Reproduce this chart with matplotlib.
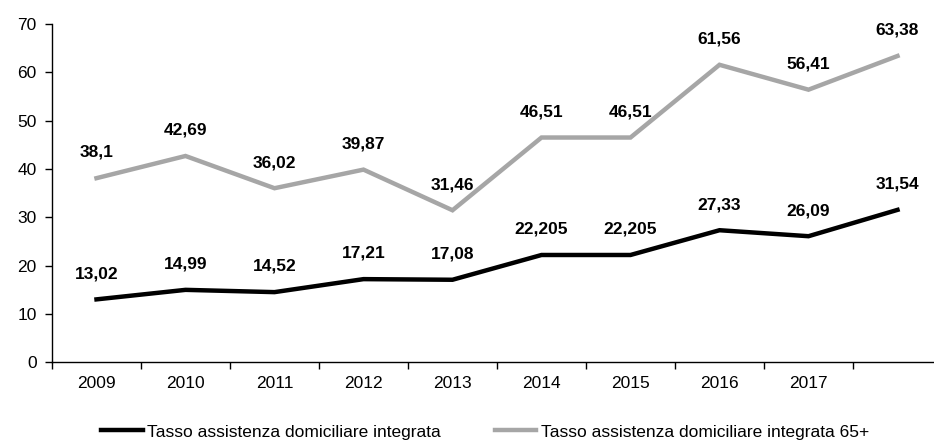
import matplotlib
matplotlib.use("Agg")
import matplotlib.pyplot as plt
import numpy as np

years = ["2009", "2010", "2011", "2012", "2013", "2014", "2015", "2016", "2017", ""]
adi = [13.02, 14.99, 14.52, 17.21, 17.08, 22.205, 22.205, 27.33, 26.09, 31.54]
adi_65 = [38.1, 42.69, 36.02, 39.87, 31.46, 46.51, 46.51, 61.56, 56.41, 63.38]
adi_label = "Tasso assistenza domiciliare integrata"
adi_65_label = "Tasso assistenza domiciliare integrata 65+"

plt.rcParams["font.family"] = ["Liberation Sans", "DejaVu Sans"]
FS = 12.5


def fmt(v):
    # italian decimal comma, keep the digits as printed on the chart
    s = ("%.3f" % v).rstrip("0").rstrip(".")
    return s.replace(".", ",")


fig = plt.figure(figsize=(9.34, 4.41), dpi=100)
ax = fig.add_axes([52 / 934, (441 - 362.3) / 441, 890 / 934, 338.3 / 441])

x = np.arange(len(years))
ax.plot(x, adi, color="black", lw=3.2, solid_joinstyle="miter", label=adi_label)
ax.plot(x, adi_65, color="#a6a6a6", lw=3.2, solid_joinstyle="miter", label=adi_65_label)

for xi, v in zip(x, adi):
    ax.annotate(fmt(v), (xi, v), xytext=(0, 18.5), textcoords="offset points",
                ha="center", va="center", fontsize=FS, fontweight="bold")
for xi, v in zip(x, adi_65):
    ax.annotate(fmt(v), (xi, v), xytext=(0, 18.5), textcoords="offset points",
                ha="center", va="center", fontsize=FS, fontweight="bold")

ax.set_xlim(-0.5, len(years) - 0.5)
ax.set_ylim(0, 70)
ax.set_yticks(np.arange(0, 71, 10))
ax.set_xticks(np.arange(-0.5, len(years) - 1, 1.0))
ax.set_xticklabels([])
ax.set_xticks(x, minor=True)
ax.set_xticklabels(years, minor=True)
ax.tick_params(axis="x", which="major", direction="out", length=5, width=1)
ax.tick_params(axis="x", which="minor", length=0, labelsize=FS, pad=10)
ax.tick_params(axis="y", direction="out", length=5, width=1, labelsize=FS, pad=6)

for side in ["top", "right"]:
    ax.spines[side].set_visible(False)
for side in ["left", "bottom"]:
    ax.spines[side].set_linewidth(1)

fig.legend(loc="center", bbox_to_anchor=(485 / 934, 1 - 432 / 441), ncol=2, frameon=False,
           fontsize=FS, handlelength=2.4, handletextpad=0.25, columnspacing=3.1,
           borderaxespad=0)

fig.savefig("out.png", dpi=100)
